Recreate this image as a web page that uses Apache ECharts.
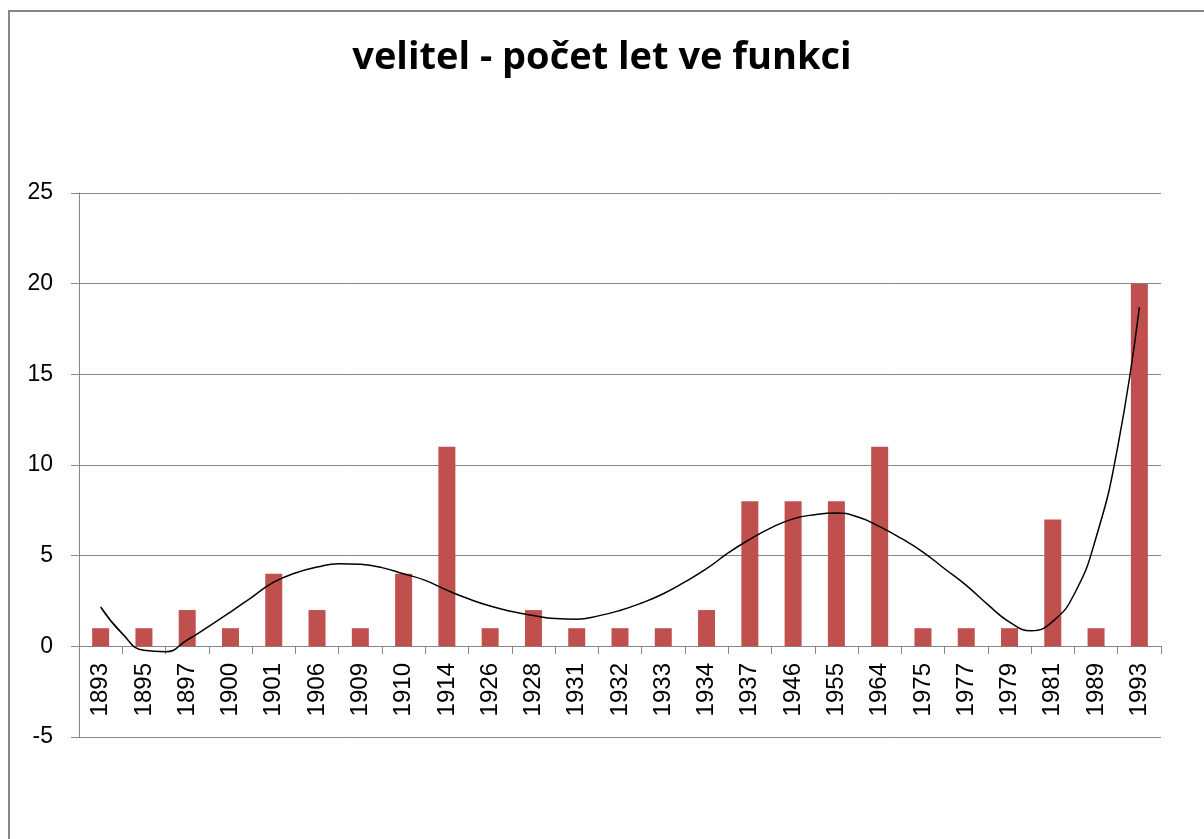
<!DOCTYPE html>
<html>
<head>
<meta charset="utf-8">
<title>velitel - počet let ve funkci</title>
<script src="https://cdn.jsdelivr.net/npm/echarts@6/dist/echarts.min.js"></script>
<style>
  html, body { margin: 0; padding: 0; background: #fff; }
  #chart { width: 1204px; height: 839px; }
</style>
</head>
<body>
<div id="chart"></div>
<script>
// roky nástupu velitele
const years = ['1893', '1895', '1897', '1900', '1901', '1906', '1909', '1910', '1914', '1926',
  '1928', '1931', '1932', '1933', '1934', '1937', '1946', '1955', '1964', '1975',
  '1977', '1979', '1981', '1989', '1993']
// počet let ve funkci
const yearsInOffice = [1, 1, 2, 1, 4, 2, 1, 4, 11, 1, 2, 1, 1, 1, 2, 8, 8, 8, 11, 1, 1, 1, 7, 1, 20]
// spojnice trendu, po půl kategorie (pozice = index kategorie)
const trendPos = [0, 0.5, 1, 1.5, 2, 2.5, 3, 3.5, 4, 4.5, 5, 5.5, 6, 6.5, 7, 7.5, 8, 8.5, 9, 9.5,
  10, 10.5, 11, 11.5, 12, 12.5, 13, 13.5, 14, 14.5, 15, 15.5, 16, 16.5, 17, 17.5, 18, 18.5, 19, 19.5,
  20, 20.5, 21, 21.5, 22, 22.5, 23, 23.5, 24]
const trendVal = [2.17, 0.7, -0.22, -0.3, 0.35, 1.1, 1.89, 2.72, 3.54, 4.04, 4.37, 4.56, 4.52, 4.34, 4.0, 3.64, 3.1, 2.62, 2.22, 1.92,
  1.7, 1.53, 1.5, 1.68, 1.98, 2.39, 2.9, 3.55, 4.28, 5.15, 5.9, 6.55, 7.03, 7.26, 7.35, 7.13, 6.6, 5.95, 5.2, 4.28,
  3.36, 2.3, 1.34, 0.86, 1.38, 2.9, 6.0, 11.0, 18.7]
const yTicks = { min: -5, max: 25, step: 5 }

const font = 'Liberation Sans'
const gray = '#868686'

const chart = echarts.init(document.getElementById('chart'))
const option = {
  backgroundColor: '#fff',
  animation: false,
  title: {
    text: 'velitel - počet let ve funkci',
    left: 'center',
    top: 34,
    textStyle: {
      fontFamily: 'Open Sans',
      fontWeight: 'bold',
      fontSize: 38,
      color: '#000'
    }
  },
  graphic: [
    {
      type: 'rect',
      shape: { x: 9, y: 11, width: 1220, height: 900 },
      style: { fill: 'none', stroke: gray, lineWidth: 2 },
      silent: true
    }
  ],
  grid: {
    left: 79,
    right: 43,
    top: 193,
    bottom: 102,
    containLabel: false,
    outerBoundsMode: 'none'
  },
  xAxis: [
    {
      type: 'category',
      data: years,
      // osa leží na nule: posun nahoru o 5 jednotek
      offset: -91,
      axisLine: { onZero: false, lineStyle: { color: gray, width: 1 } },
      axisTick: { show: true, length: 8, lineStyle: { color: gray } },
      axisLabel: {
        rotate: 90,
        margin: 17,
        fontSize: 24,
        fontFamily: font,
        color: '#000',
        interval: 0
      },
      splitLine: { show: false }
    },
    {
      type: 'value',
      min: -0.5,
      max: 24.5,
      show: false
    }
  ],
  yAxis: {
    type: 'value',
    min: yTicks.min,
    max: yTicks.max,
    interval: yTicks.step,
    axisLine: { show: true, onZero: false, lineStyle: { color: gray, width: 1 } },
    axisTick: { show: true, length: 8, lineStyle: { color: gray } },
    axisLabel: { margin: 26, fontSize: 23, fontFamily: font, color: '#000' },
    splitLine: { lineStyle: { color: gray, width: 1 } }
  },
  series: [
    {
      type: 'bar',
      data: yearsInOffice,
      barWidth: 17,
      itemStyle: { color: '#C0504D' }
    },
    {
      type: 'line',
      xAxisIndex: 1,
      data: trendPos.map((p, i) => [p, trendVal[i]]),
      smooth: true,
      symbol: 'none',
      lineStyle: { color: '#000', width: 1.5 },
      z: 3
    }
  ]
}
chart.setOption(option)
</script>
</body>
</html>
